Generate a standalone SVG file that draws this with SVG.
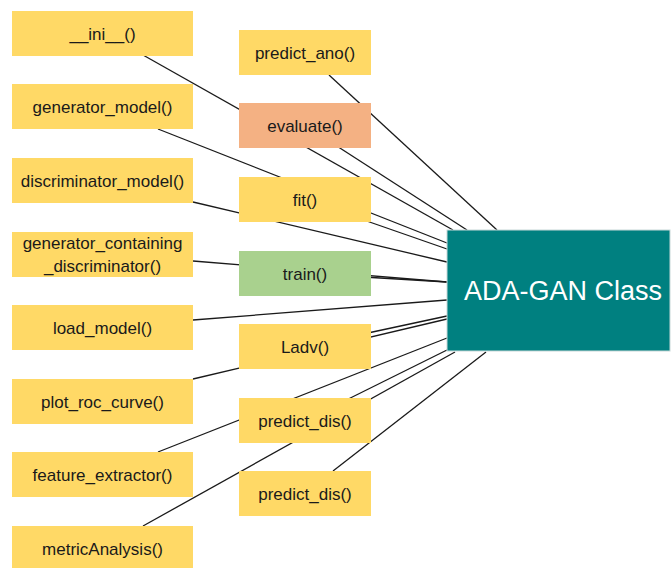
<svg xmlns="http://www.w3.org/2000/svg" width="671" height="568" viewBox="0 0 671 568">
  <style>
    .box { fill: #FFD966; }
    .eval { fill: #F4B183; }
    .train { fill: #A9D18E; }
    .cls { fill: #008080; stroke: #c8d8d8; stroke-width: 1; }
    .lbl { font-family: "Liberation Sans", Arial, sans-serif; font-size: 17px; fill: #1a1a1a; text-anchor: middle; }
    .title { font-family: "Liberation Sans", Arial, sans-serif; font-size: 27px; fill: #ffffff; text-anchor: middle; }
    .links line { stroke: #1a1a1a; stroke-width: 1.3; }
  </style>

  <!-- connectors: every method links to the class box; drawn first so boxes sit on top -->
  <g id="connectors" class="links">
    <line x1="143" y1="55" x2="453" y2="230"/>
    <line x1="329" y1="75" x2="497" y2="230"/>
    <line x1="305" y1="125.5" x2="467" y2="230"/>
    <line x1="158" y1="129" x2="447" y2="243"/>
    <line x1="305" y1="199.5" x2="447" y2="249"/>
    <line x1="193" y1="202" x2="447" y2="262"/>
    <line x1="193" y1="261" x2="447" y2="282"/>
    <line x1="305" y1="273.5" x2="447" y2="282"/>
    <line x1="193" y1="320" x2="447" y2="300"/>
    <line x1="305" y1="346.5" x2="447" y2="316"/>
    <line x1="193" y1="379" x2="447" y2="319"/>
    <line x1="158" y1="452" x2="447" y2="338"/>
    <line x1="305" y1="420.5" x2="447" y2="350"/>
    <line x1="143" y1="526" x2="455" y2="352"/>
    <line x1="333" y1="471" x2="486" y2="352"/>
  </g>

  <!-- left column -->
  <g id="ini">
    <rect class="box" x="12" y="11" width="181" height="45"/>
    <text class="lbl" x="102.5" y="39.5">__ini__()</text>
  </g>
  <g id="generator_model">
    <rect class="box" x="12" y="84" width="181" height="45"/>
    <text class="lbl" x="102.5" y="112.5">generator_model()</text>
  </g>
  <g id="discriminator_model">
    <rect class="box" x="12" y="158" width="181" height="45"/>
    <text class="lbl" x="102.5" y="186.5">discriminator_model()</text>
  </g>
  <g id="generator_containing_discriminator">
    <rect class="box" x="12" y="232" width="181" height="45"/>
    <text class="lbl" x="102.5" y="249">generator_containing</text>
    <text class="lbl" x="102.5" y="272">_discriminator()</text>
  </g>
  <g id="load_model">
    <rect class="box" x="12" y="305" width="181" height="45"/>
    <text class="lbl" x="102.5" y="333.5">load_model()</text>
  </g>
  <g id="plot_roc_curve">
    <rect class="box" x="12" y="379" width="181" height="45"/>
    <text class="lbl" x="102.5" y="407.5">plot_roc_curve()</text>
  </g>
  <g id="feature_extractor">
    <rect class="box" x="12" y="452" width="181" height="45"/>
    <text class="lbl" x="102.5" y="480.5">feature_extractor()</text>
  </g>
  <g id="metricAnalysis">
    <rect class="box" x="12" y="526" width="181" height="45"/>
    <text class="lbl" x="102.5" y="554.5">metricAnalysis()</text>
  </g>

  <!-- middle column -->
  <g id="predict_ano">
    <rect class="box" x="239" y="30" width="132" height="45"/>
    <text class="lbl" x="305" y="58.5">predict_ano()</text>
  </g>
  <g id="evaluate">
    <rect class="eval" x="239" y="103" width="132" height="45"/>
    <text class="lbl" x="305" y="131.5">evaluate()</text>
  </g>
  <g id="fit">
    <rect class="box" x="239" y="177" width="132" height="45"/>
    <text class="lbl" x="305" y="205.5">fit()</text>
  </g>
  <g id="train">
    <rect class="train" x="239" y="251" width="132" height="45"/>
    <text class="lbl" x="305" y="279.5">train()</text>
  </g>
  <g id="Ladv">
    <rect class="box" x="239" y="324" width="132" height="45"/>
    <text class="lbl" x="305" y="352.5">Ladv()</text>
  </g>
  <g id="predict_dis_1">
    <rect class="box" x="239" y="398" width="132" height="45"/>
    <text class="lbl" x="305" y="426.5">predict_dis()</text>
  </g>
  <g id="predict_dis_2">
    <rect class="box" x="239" y="471" width="132" height="45"/>
    <text class="lbl" x="305" y="499.5">predict_dis()</text>
  </g>

  <!-- class box -->
  <g id="ada_gan_class">
    <rect class="cls" x="447" y="230" width="223" height="121"/>
    <text class="title" x="563" y="300">ADA-GAN Class</text>
  </g>
</svg>
